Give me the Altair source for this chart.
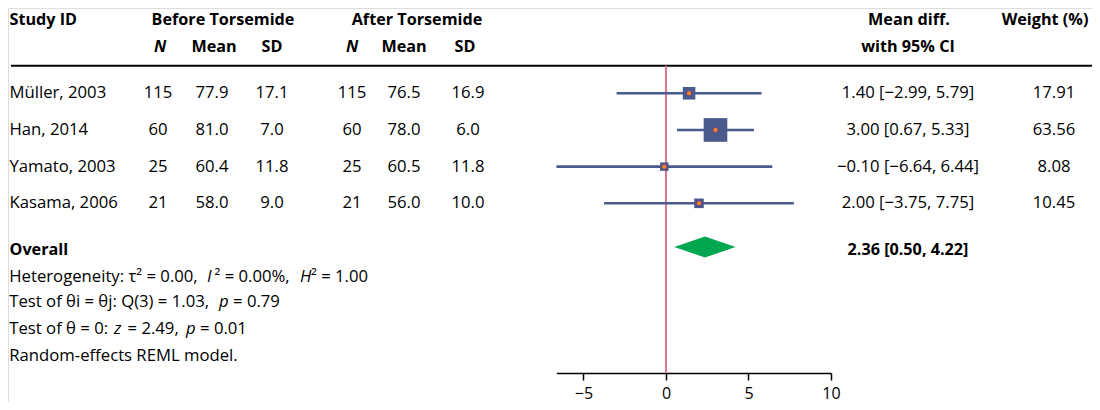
import altair as alt
import pandas as pd

# ---------------- data ----------------
studies = ["Müller, 2003", "Han, 2014", "Yamato, 2003", "Kasama, 2006"]
before_n = [115, 60, 25, 21]
before_mean = [77.9, 81.0, 60.4, 58.0]
before_sd = [17.1, 7.0, 11.8, 9.0]
after_n = [115, 60, 25, 21]
after_mean = [76.5, 78.0, 60.5, 56.0]
after_sd = [16.9, 6.0, 11.8, 10.0]
mean_diff = [1.40, 3.00, -0.10, 2.00]
ci_low = [-2.99, 0.67, -6.64, -3.75]
ci_high = [5.79, 5.33, 6.44, 7.75]
weights = [17.91, 63.56, 8.08, 10.45]

overall_est = 2.36
overall_lo = 0.50
overall_hi = 4.22

# footer lines as (text, italic) segments
footer_lines = [
    [("Heterogeneity: τ² = 0.00, ", False), ("I", True), ("² = 0.00%, ", False), ("H", True),
     ("² = 1.00", False)],
    [("Test of θi = θj: Q(3) = 1.03, ", False), ("p", True), ("= 0.79", False)],
    [("Test of θ = 0: ", False), ("z", True), ("= 2.49, ", False), ("p", True), ("= 0.01", False)],
    [("Random-effects REML model.", False)],
]
x_ticks = [-5, 0, 5, 10]


def fmt(v, d):
    return f"{v:.{d}f}".replace("-", "\u2212")


df = pd.DataFrame({
    "study": studies,
    "n1": [str(v) for v in before_n],
    "m1": [fmt(v, 1) for v in before_mean],
    "s1": [fmt(v, 1) for v in before_sd],
    "n2": [str(v) for v in after_n],
    "m2": [fmt(v, 1) for v in after_mean],
    "s2": [fmt(v, 1) for v in after_sd],
    "md": mean_diff,
    "lo": ci_low,
    "hi": ci_high,
    "w": weights,
    "ci": [f"{fmt(m, 2)} [{fmt(l, 2)}, {fmt(h, 2)}]" for m, l, h in zip(mean_diff, ci_low, ci_high)],
    "wl": [fmt(v, 2) for v in weights],
})

# ---------------- styling / layout ----------------
FONT = "Open Sans"
FS = 16.7
FSB = 16.2
NAVY = "#4a5a8c"
ORANGE = "#f5821f"
GREEN = "#00a650"
PINK = "#d4778c"

W, H = 1084, 394
X_RANGE = [548.4, 823.0]
ROW_RANGE = [85.3, 195.3]
H1_Y, H2_Y, RULE_Y = 12, 38.7, 57.7
FOOT_Y = [242, 268.7, 293.7, 321, 348]
AXIS_Y = 365
# x start of each footer segment (layout only)
FOOT_SEG_X = [
    [1.3, 199, 206.5, 292, 303],
    [1.3, 211, 225],
    [1.3, 106, 119.5, 178, 192],
    [1.3],
]

xscale = alt.Scale(domain=[min(ci_low), 10], range=X_RANGE, nice=False, zero=False)
xaxis = alt.Axis(values=x_ticks, domainColor="black", domainWidth=1.5, tickColor="black",
                 tickWidth=1.5, tickSize=7, labelFontSize=16, labelColor="black", labelFont=FONT,
                 grid=False, title=None, labelPadding=18, labelBaseline="alphabetic",
                 labelFlush=False, offset=AXIS_Y - H)


def X(field):
    return alt.X(field, type="quantitative", scale=xscale, axis=xaxis, title=None)


y_rows = alt.Y("study:N", scale=alt.Scale(type="point", domain=studies, range=ROW_RANGE, padding=0),
               axis=None)


def label(text, x, y, align="center", bold=False, italic=False):
    return alt.Chart(pd.DataFrame({"t": [text]})).mark_text(
        font=FONT, fontSize=FSB if bold else FS, align=align, baseline="middle", color="black",
        fontWeight="bold" if bold else "normal", fontStyle="italic" if italic else "normal",
    ).encode(x=alt.value(x), y=alt.value(y), text="t:N")


def col(field, x, align="center"):
    return alt.Chart(df).mark_text(
        font=FONT, fontSize=FS, align=align, baseline="middle", color="black"
    ).encode(x=alt.value(x), y=y_rows, text=f"{field}:N")


layers = []

# headers
layers += [
    label("Study ID", 1.5, H1_Y, align="left", bold=True),
    label("Before Torsemide", 215, H1_Y, bold=True),
    label("After Torsemide", 409, H1_Y, bold=True),
    label("N", 152, H2_Y, bold=True, italic=True),
    label("Mean", 206, H2_Y, bold=True),
    label("SD", 264, H2_Y, bold=True),
    label("N", 344, H2_Y, bold=True, italic=True),
    label("Mean", 396, H2_Y, bold=True),
    label("SD", 457, H2_Y, bold=True),
    label("Mean diff.", 901, H1_Y, bold=True),
    label("with 95% CI", 900, H2_Y, bold=True),
    label("Weight (%)", 1037, H1_Y, bold=True),
]

# header rule
layers.append(alt.Chart(pd.DataFrame({"a": [0]})).mark_rule(color="black", strokeWidth=2).encode(
    x=alt.value(3), x2=alt.value(W), y=alt.value(RULE_Y)))

# table columns
layers += [
    col("study", 1.5, align="left"),
    col("n1", 150), col("m1", 204), col("s1", 264),
    col("n2", 344), col("m2", 396), col("s2", 460),
    col("ci", 900), col("wl", 1046),
]

# null line
layers.append(alt.Chart(pd.DataFrame({"a": [0]})).mark_rule(color=PINK, strokeWidth=2).encode(
    x=alt.X("a:Q", scale=xscale, axis=xaxis, title=None),
    y=alt.value(RULE_Y), y2=alt.value(AXIS_Y)))

# CI lines
layers.append(alt.Chart(df).mark_rule(color=NAVY, strokeWidth=2.6).encode(
    x=X("lo"), x2="hi", y=y_rows))

# weight squares
layers.append(alt.Chart(df).mark_square(color=NAVY, opacity=1, filled=True).encode(
    x=X("md"), y=y_rows,
    size=alt.Size("w:Q", scale=alt.Scale(domain=[0, 100], range=[0, 880]), legend=None)))

# point estimates
layers.append(alt.Chart(df).mark_circle(color=ORANGE, opacity=1, size=30, stroke="#5b3c99",
                                        strokeWidth=1).encode(x=X("md"), y=y_rows))

# overall diamond
dia = pd.DataFrame({"x": [overall_lo, overall_est, overall_hi], "top": [0, 1, 0], "bot": [0, -1, 0]})
layers.append(alt.Chart(dia).mark_area(color=GREEN, opacity=1, interpolate="linear").encode(
    x=X("x"),
    y=alt.Y("top:Q", scale=alt.Scale(domain=[-1, 1], range=[249.5, 228.5], nice=False, zero=False),
            axis=None),
    y2="bot"))

# overall row and footer
layers.append(label("Overall", 1.5, FOOT_Y[0], align="left", bold=True))
layers.append(label(f"{fmt(overall_est, 2)} [{fmt(overall_lo, 2)}, {fmt(overall_hi, 2)}]", 900,
                    FOOT_Y[0], bold=True))
for segs, xs, y in zip(footer_lines, FOOT_SEG_X, FOOT_Y[1:]):
    for (t, it), x in zip(segs, xs):
        layers.append(label(t, x, y, align="left", italic=it))

chart = alt.layer(*layers).resolve_scale(y="independent").properties(
    width=W, height=H, padding=0, autosize="none"
).configure_view(stroke="transparent", strokeWidth=0).configure(background="white")

chart.save("out.html", embed_options={"renderer": "svg", "actions": False})
